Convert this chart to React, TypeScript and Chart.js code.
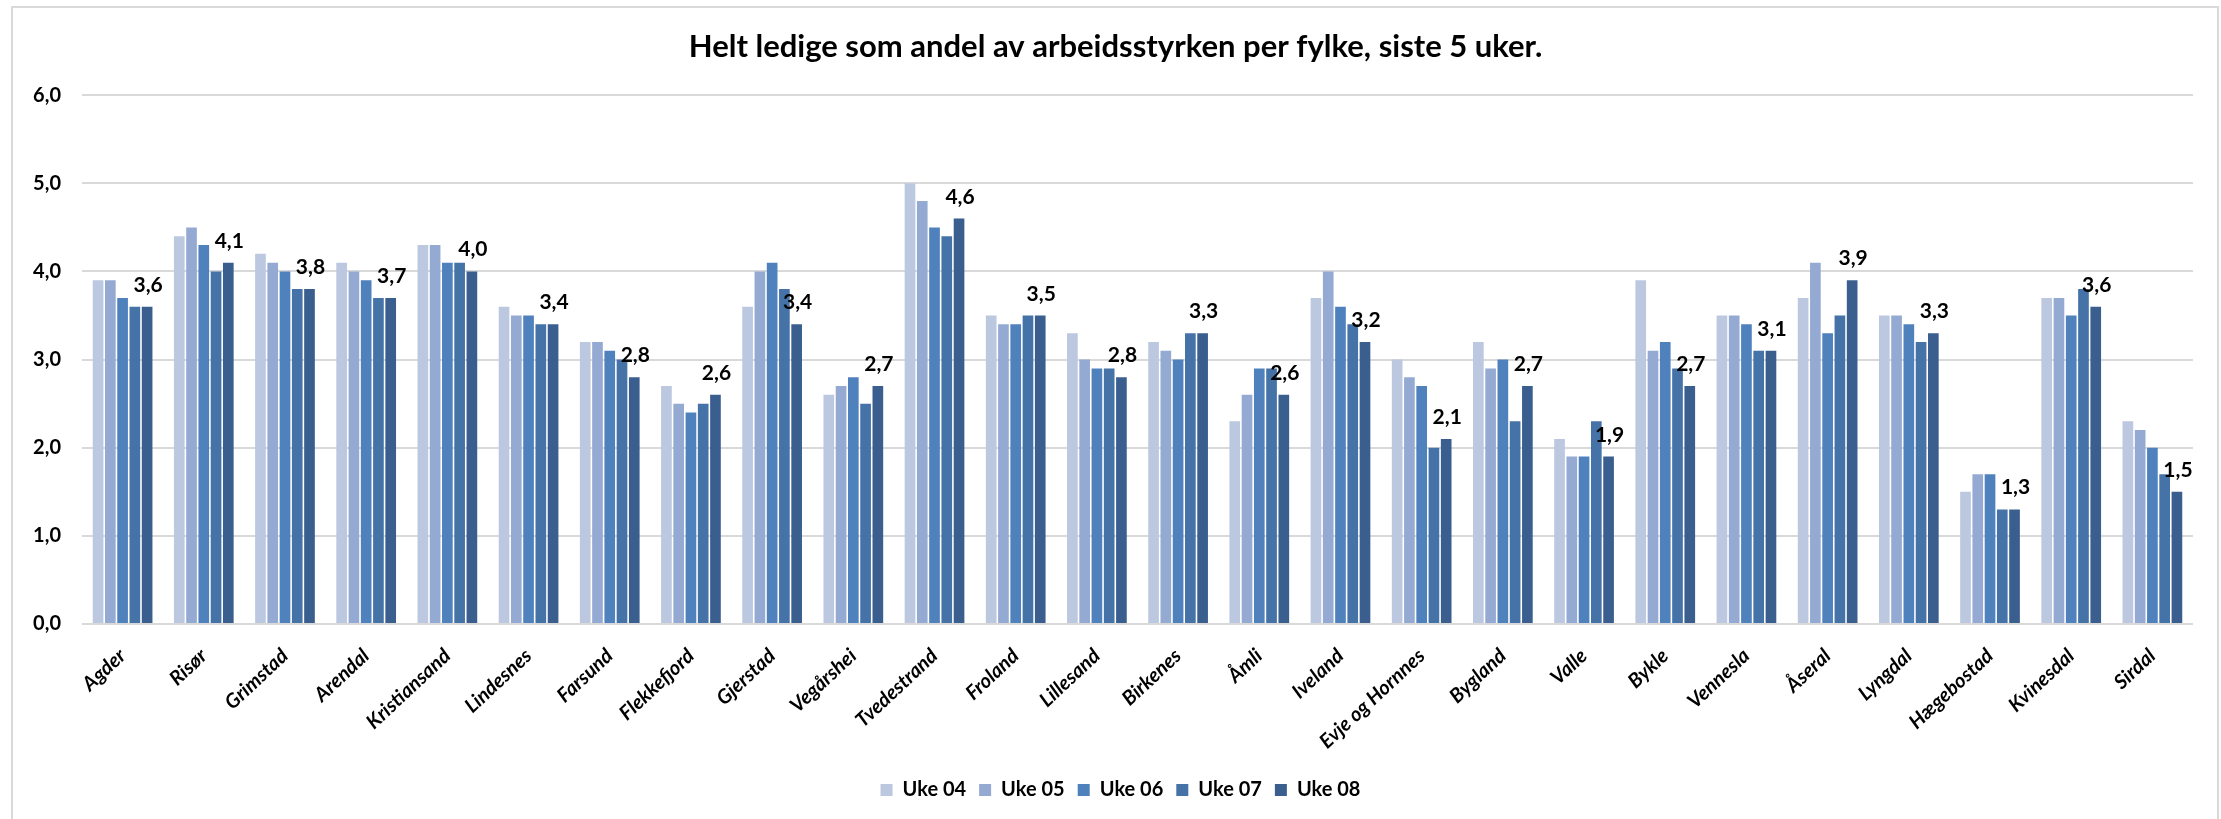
import React, { useEffect, useRef } from "react";
import { Chart, registerables } from "chart.js";

Chart.register(...registerables);

const TITLE = "Helt ledige som andel av arbeidsstyrken per fylke, siste 5 uker.";

const categories = [
  "Agder", "Risør", "Grimstad", "Arendal", "Kristiansand", "Lindesnes", "Farsund",
  "Flekkefjord", "Gjerstad", "Vegårshei", "Tvedestrand", "Froland", "Lillesand",
  "Birkenes", "Åmli", "Iveland", "Evje og Hornnes", "Bygland", "Valle", "Bykle",
  "Vennesla", "Åseral", "Lyngdal", "Hægebostad", "Kvinesdal", "Sirdal",
];

const seriesNames = ["Uke 04", "Uke 05", "Uke 06", "Uke 07", "Uke 08"];

const uke04 = [3.9, 4.4, 4.2, 4.1, 4.3, 3.6, 3.2, 2.7, 3.6, 2.6, 5.0, 3.5, 3.3, 3.2, 2.3, 3.7, 3.0, 3.2, 2.1, 3.9, 3.5, 3.7, 3.5, 1.5, 3.7, 2.3];
const uke05 = [3.9, 4.5, 4.1, 4.0, 4.3, 3.5, 3.2, 2.5, 4.0, 2.7, 4.8, 3.4, 3.0, 3.1, 2.6, 4.0, 2.8, 2.9, 1.9, 3.1, 3.5, 4.1, 3.5, 1.7, 3.7, 2.2];
const uke06 = [3.7, 4.3, 4.0, 3.9, 4.1, 3.5, 3.1, 2.4, 4.1, 2.8, 4.5, 3.4, 2.9, 3.0, 2.9, 3.6, 2.7, 3.0, 1.9, 3.2, 3.4, 3.3, 3.4, 1.7, 3.5, 2.0];
const uke07 = [3.6, 4.0, 3.8, 3.7, 4.1, 3.4, 3.0, 2.5, 3.8, 2.5, 4.4, 3.5, 2.9, 3.3, 2.9, 3.4, 2.0, 2.3, 2.3, 2.9, 3.1, 3.5, 3.2, 1.3, 3.8, 1.7];
const uke08 = [3.6, 4.1, 3.8, 3.7, 4.0, 3.4, 2.8, 2.6, 3.4, 2.7, 4.6, 3.5, 2.8, 3.3, 2.6, 3.2, 2.1, 2.7, 1.9, 2.7, 3.1, 3.9, 3.3, 1.3, 3.6, 1.5];

const seriesValues = [uke04, uke05, uke06, uke07, uke08];
const seriesColors = ["#BBC8E0", "#95AAD2", "#4F81BD", "#4572A7", "#3A5F8F"];

const yMin = 0;
const yMax = 6;
const yStep = 1;

const fmt = (v: number) => v.toFixed(1).replace(".", ",");

const FONT = "Lato, 'Open Sans', sans-serif";

const lastSeriesLabels = {
  id: "lastSeriesLabels",
  afterDatasetsDraw(chart: any) {
    const ctx = chart.ctx;
    const idx = chart.data.datasets.length - 1;
    const meta = chart.getDatasetMeta(idx);
    const data = chart.data.datasets[idx].data as number[];
    ctx.save();
    ctx.font = `bold 21px ${FONT}`;
    ctx.fillStyle = "#000";
    ctx.textAlign = "center";
    ctx.textBaseline = "alphabetic";
    meta.data.forEach((el: any, i: number) => {
      ctx.fillText(fmt(data[i]), el.x + 1, el.y - 15);
    });
    ctx.restore();
  },
};

// Center title and legend on the outer chart frame rather than the padded box.
const centerOnFrame = {
  id: "centerOnFrame",
  afterLayout(chart: any) {
    const t = chart.titleBlock;
    if (t) {
      t.left += 19;
      t.right += 19;
    }
    const l = chart.legend;
    if (l) {
      l.left += 24;
      l.right += 24;
    }
  },
};

export default function App() {
  const ref = useRef<HTMLCanvasElement | null>(null);

  useEffect(() => {
    if (!ref.current) return;
    Chart.defaults.font.family = FONT;
    const chart = new Chart(ref.current, {
      type: "bar",
      data: {
        labels: categories,
        datasets: seriesNames.map((name, i) => ({
          label: name,
          data: seriesValues[i],
          backgroundColor: seriesColors[i],
          borderWidth: 0,
          categoryPercentage: 0.755,
          barPercentage: 0.87,
        })),
      },
      options: {
        responsive: false,
        animation: false,
        layout: { padding: { left: 0, right: 28, top: 0, bottom: 9 } },
        plugins: {
          title: {
            display: true,
            text: TITLE,
            color: "#000",
            font: { size: 31, weight: "bold", family: FONT },
            padding: { top: 28, bottom: 30 },
          },
          legend: {
            display: true,
            position: "bottom",
            labels: {
              boxWidth: 12,
              boxHeight: 12,
              padding: 13,
              color: "#000",
              font: { size: 20, weight: "bold", family: FONT },
            },
          },
          tooltip: { enabled: false },
        },
        scales: {
          x: {
            grid: { display: false },
            border: { display: false },
            ticks: {
              autoSkip: false,
              maxRotation: 43,
              minRotation: 43,
              padding: 12,
              color: "#000",
              font: { size: 20, weight: "bold", style: "italic", family: FONT },
            },
            afterFit(scale: any) {
              scale.height = 143;
            },
          },
          y: {
            min: yMin,
            max: yMax,
            border: { display: false },
            grid: { color: "#D9D9D9", lineWidth: 2, drawTicks: false },
            ticks: {
              stepSize: yStep,
              padding: 21,
              color: "#000",
              font: { size: 20, weight: "bold", family: FONT },
              callback: (v: any) => fmt(Number(v)),
            },
            afterFit(scale: any) {
              scale.width = 82;
            },
          },
        },
      },
      plugins: [lastSeriesLabels, centerOnFrame],
    });
    return () => chart.destroy();
  }, []);

  return (
    <div
      style={{
        position: "fixed",
        left: 0,
        top: 0,
        width: 2221,
        height: 819,
        background: "#fff",
        overflow: "hidden",
      }}
    >
      <div
        style={{
          position: "absolute",
          left: 11,
          top: 6,
          width: 2208,
          height: 900,
          boxSizing: "border-box",
          border: "2px solid #D9D9D9",
        }}
      />
      <canvas
        ref={ref}
        width={2221}
        height={819}
        style={{ position: "absolute", left: 0, top: 0, width: 2221, height: 819 }}
      />
    </div>
  );
}
